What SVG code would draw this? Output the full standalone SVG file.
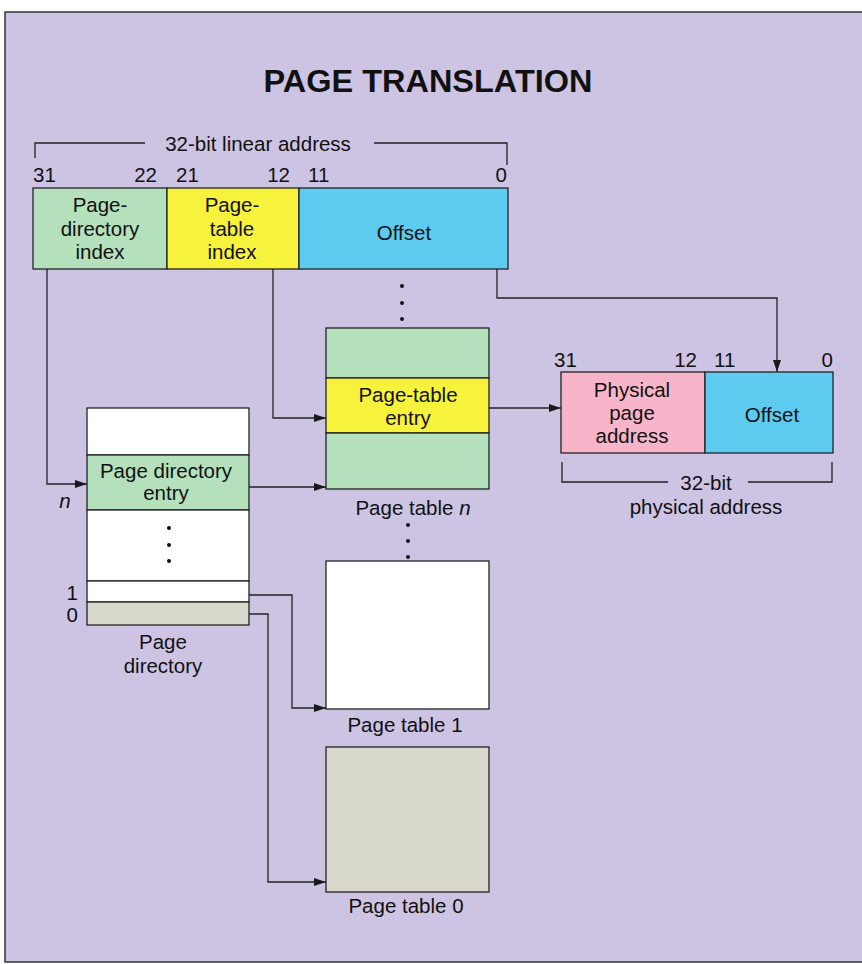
<svg xmlns="http://www.w3.org/2000/svg" width="862" height="964" viewBox="0 0 862 964">
<defs>
<marker id="ah" viewBox="0 0 12 8" refX="12" refY="4" markerWidth="13" markerHeight="8" markerUnits="userSpaceOnUse" orient="auto">
<path d="M0,0 L12,4 L0,8 Z" fill="#1a1a1a"/>
</marker>
<style>
.t{font-family:"Liberation Sans",Arial,sans-serif;font-size:20.5px;fill:#111;}
.c{text-anchor:middle;}
.e{text-anchor:end;}
.box{stroke:#222;stroke-width:1.3;}
.ln{fill:none;stroke:#222;stroke-width:1.3;}
.arr{fill:none;stroke:#222;stroke-width:1.3;marker-end:url(#ah);}
.dot{fill:#111;}
</style>
</defs>
<rect x="0" y="0" width="862" height="964" fill="#ffffff"/>
<rect x="5" y="12" width="870" height="950" fill="#cdc4e4" stroke="#333" stroke-width="1.5"/>
<text x="428" y="92" class="t c" style="font-size:32px;font-weight:bold" textLength="329" lengthAdjust="spacingAndGlyphs">PAGE TRANSLATION</text>

<g id="linear-address">
<path class="ln" d="M35,158 V143 H145"/>
<text x="258" y="151" class="t c">32-bit linear address</text>
<path class="ln" d="M374,143 H507 V165"/>
<text x="33" y="182" class="t">31</text>
<text x="157" y="182" class="t e">22</text>
<text x="176" y="182" class="t">21</text>
<text x="290" y="182" class="t e">12</text>
<text x="308" y="182" class="t">11</text>
<text x="507" y="182" class="t e">0</text>
<rect x="33" y="188" width="134" height="81" fill="#b4e0bc" class="box"/>
<rect x="167" y="188" width="132" height="81" fill="#f7f23c" class="box"/>
<rect x="299" y="188" width="209" height="81" fill="#5ccbef" class="box"/>
<text x="100" y="212" class="t c">Page-</text>
<text x="100" y="236" class="t c">directory</text>
<text x="100" y="259" class="t c">index</text>
<text x="232" y="212" class="t c">Page-</text>
<text x="232" y="236" class="t c">table</text>
<text x="232" y="259" class="t c">index</text>
<text x="404" y="240" class="t c">Offset</text>
</g>

<g id="page-directory">
<rect x="87" y="408" width="162" height="47" fill="#ffffff" class="box"/>
<rect x="87" y="455" width="162" height="55" fill="#b4e0bc" class="box"/>
<rect x="87" y="510" width="162" height="71" fill="#ffffff" class="box"/>
<rect x="87" y="581" width="162" height="21" fill="#ffffff" class="box"/>
<rect x="87" y="602" width="162" height="23" fill="#d8dacd" class="box"/>
<text x="166" y="478" class="t c">Page directory</text>
<text x="166" y="500" class="t c">entry</text>
<circle cx="169" cy="528" r="2" class="dot"/>
<circle cx="169" cy="545" r="2" class="dot"/>
<circle cx="169" cy="561" r="2" class="dot"/>
<text x="65" y="508" class="t c" style="font-style:italic">n</text>
<text x="78" y="600" class="t e">1</text>
<text x="78" y="622" class="t e">0</text>
<text x="163" y="649" class="t c">Page</text>
<text x="163" y="673" class="t c">directory</text>
</g>

<g id="page-table-n">
<circle cx="402" cy="286" r="2" class="dot"/>
<circle cx="402" cy="303" r="2" class="dot"/>
<circle cx="402" cy="319" r="2" class="dot"/>
<rect x="326" y="328" width="163" height="50" fill="#b4e0bc" class="box"/>
<rect x="326" y="378" width="163" height="55" fill="#f7f23c" class="box"/>
<rect x="326" y="433" width="163" height="56" fill="#b4e0bc" class="box"/>
<text x="408" y="402" class="t c">Page-table</text>
<text x="408" y="425" class="t c">entry</text>
<text x="413" y="515" class="t c">Page table <tspan style="font-style:italic">n</tspan></text>
<circle cx="408" cy="525" r="2" class="dot"/>
<circle cx="408" cy="541" r="2" class="dot"/>
<circle cx="408" cy="557" r="2" class="dot"/>
</g>

<g id="page-table-1">
<rect x="326" y="561" width="163" height="148" fill="#ffffff" class="box"/>
<text x="405" y="732" class="t c">Page table 1</text>
</g>

<g id="page-table-0">
<rect x="326" y="747" width="163" height="145" fill="#d8d8cd" class="box"/>
<text x="406" y="913" class="t c">Page table 0</text>
</g>

<g id="physical-address">
<text x="554" y="367" class="t">31</text>
<text x="697" y="367" class="t e">12</text>
<text x="714" y="367" class="t">11</text>
<text x="833" y="367" class="t e">0</text>
<rect x="561" y="372" width="144" height="81" fill="#f8b4c8" class="box"/>
<rect x="705" y="372" width="128" height="81" fill="#5ccbef" class="box"/>
<text x="632" y="397" class="t c">Physical</text>
<text x="632" y="420" class="t c">page</text>
<text x="632" y="443" class="t c">address</text>
<text x="772" y="422" class="t c">Offset</text>
<path class="ln" d="M562,462 V482 H668"/>
<text x="706" y="490" class="t c">32-bit</text>
<path class="ln" d="M748,482 H832 V462"/>
<text x="706" y="514" class="t c">physical address</text>
</g>

<g id="connectors">
<path class="arr" d="M47,269 V484 H87"/>
<path class="arr" d="M273,269 V418 H326"/>
<path class="arr" d="M497,269 V298 H777 V372"/>
<path class="arr" d="M249,487 H326"/>
<path class="arr" d="M489,408 H561"/>
<path class="arr" d="M249,595 H292 V708 H326"/>
<path class="arr" d="M249,614 H268 V882 H326"/>
</g>
</svg>
